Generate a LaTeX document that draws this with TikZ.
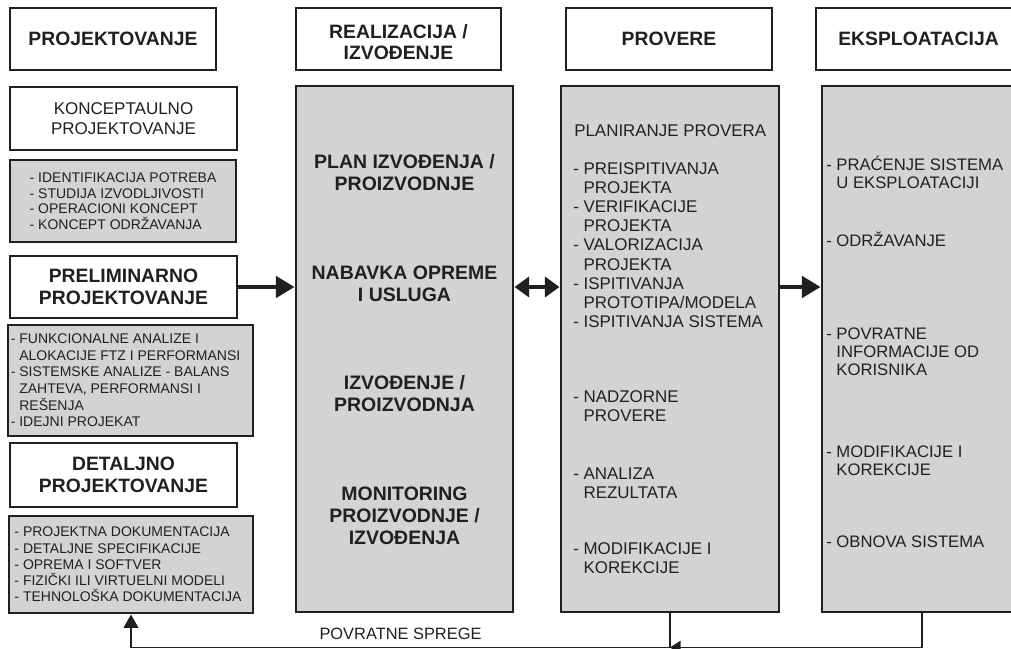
\documentclass[tikz,border=0pt]{standalone}
\usepackage{fontspec}
\setmainfont{Liberation Sans}
\usepackage{tikz}
\usetikzlibrary{arrows.meta,fit}
\definecolor{ink}{HTML}{231F20}
\definecolor{panel}{HTML}{D1D3D4}
% hanging indent for the continued list lines
\newcommand\ind{\hphantom{-\ }}

\begin{document}
\begin{tikzpicture}[x=0.75pt,y=-0.75pt,
  every node/.style={text=ink},
  bordered/.style={draw=ink, line width=2.2pt, inner sep=0pt},
  whitebox/.style={bordered, fill=white},
  panelbox/.style={bordered, fill=panel},
  heading/.style={align=center, inner sep=0pt, font=\bfseries\fontsize{14.5}{16}\selectfont},
  phase/.style={align=center, inner sep=0pt, font=\bfseries\fontsize{14.5}{17}\selectfont},
  info/.style={align=left, inner sep=0pt, font=\fontsize{10.5}{12.2}\selectfont},
  big/.style={align=center, inner sep=0pt, font=\bfseries\fontsize{14.6}{16.5}\selectfont},
  txt/.style={anchor=west, align=left, inner sep=0pt, font=\fontsize{12.7}{14.4}\selectfont},
  txtb/.style={txt, font=\fontsize{12.5}{13.5}\selectfont},
  flow/.style={draw=ink, line width=3pt, -{Triangle[length=14pt,width=16pt]}},
  twoway/.style={draw=ink, line width=3pt, {Triangle[length=11pt,width=15pt]}-{Triangle[length=11pt,width=15pt]}},
  fb/.style={draw=ink, line width=1.1pt},
]
\useasboundingbox (0,0) rectangle (1011,649);

% column headers
\node[whitebox, fit={(10,8) (216,70)}] (hproj) {};
\node[whitebox, fit={(296,8) (501,70)}] (hreal) {};
\node[whitebox, fit={(566,8) (772,70)}] (hprov) {};
\node[whitebox, fit={(816,8) (1021,70)}] (heks) {};
\node[heading] (hprojt) at (hproj) {PROJEKTOVANJE};
\node[heading] (hrealt) at ([yshift=-2.5pt]hreal.center) {REALIZACIJA /\\IZVOĐENJE};
\node[heading] (hprovt) at (hprov) {PROVERE};
\node[heading] (hekst) at (heks) {EKSPLOATACIJA};

% left column: design phases
\node[whitebox, fit={(10,87) (237,150)}] (konc) {};
\node[phase, font=\fontsize{12.75}{15}\selectfont] (konct) at (konc) {KONCEPTAULNO\\PROJEKTOVANJE};
\node[panelbox, fit={(10,160) (236,242)}] (g1) {};
\node[info, font=\fontsize{10.5}{11.7}\selectfont] (g1t) at (g1)
  {- IDENTIFIKACIJA POTREBA\\- STUDIJA IZVODLJIVOSTI\\- OPERACIONI KONCEPT\\- KONCEPT ODRŽAVANJA};
\node[whitebox, fit={(10,256) (237,318)}] (prelim) {};
\node[phase] (prelimt) at (prelim) {PRELIMINARNO\\PROJEKTOVANJE};
\node[panelbox, fit={(8,325) (253,436)}] (g2) {};
\node[info, anchor=west, font=\fontsize{10.5}{12.5}\selectfont] (g2t) at ([xshift=3pt]g2.west)
  {- FUNKCIONALNE ANALIZE I\\\ind ALOKACIJE FTZ I PERFORMANSI\\- SISTEMSKE ANALIZE - BALANS\\\ind ZAHTEVA, PERFORMANSI I\\\ind REŠENJA\\- IDEJNI PROJEKAT};
\node[whitebox, fit={(10,443) (237,507)}] (detalj) {};
\node[phase] (detaljt) at (detalj) {DETALJNO\\PROJEKTOVANJE};
\node[panelbox, fit={(9,516) (253,613)}] (g3) {};
\node[info, anchor=west] (g3t) at ([xshift=5pt]g3.west)
  {- PROJEKTNA DOKUMENTACIJA\\- DETALJNE SPECIFIKACIJE\\- OPREMA I SOFTVER\\- FIZIČKI ILI VIRTUELNI MODELI\\- TEHNOLOŠKA DOKUMENTACIJA};

% big grey columns
\node[panelbox, fit={(296,86) (513,612)}] (real) {};
\node[panelbox, fit={(561,86) (779,612)}] (prov) {};
\node[panelbox, fit={(822,86) (1022,612)}] (eks) {};

% realizacija
\node[big] (plan) at (404.5,172.5) {PLAN IZVOĐENJA /\\PROIZVODNJE};
\node[big] (nabavka) at (404.5,283.5) {NABAVKA OPREME\\I USLUGA};
\node[big] (izvod) at (404.5,393.5) {IZVOĐENJE /\\PROIZVODNJA};
\node[big] (monit) at (404.5,515.5) {MONITORING\\PROIZVODNJE /\\IZVOĐENJA};

% provere
\node[txt] (plpr) at (574,131) {PLANIRANJE PROVERA};
\node[txt] (ispit) at (573,245)
  {- PREISPITIVANJA\\\ind PROJEKTA\\- VERIFIKACIJE\\\ind PROJEKTA\\- VALORIZACIJA\\\ind PROJEKTA\\- ISPITIVANJA\\\ind PROTOTIPA/MODELA\\- ISPITIVANJA SISTEMA};
\node[txt] (nadz) at (573,406.5) {- NADZORNE\\\ind PROVERE};
\node[txt] (anal) at (573,483.5) {- ANALIZA\\\ind REZULTATA};
\node[txt] (modp) at (573,558.5) {- MODIFIKACIJE I\\\ind KOREKCIJE};

% eksploatacija
\node[txtb] (prac) at (826,172) {- PRAĆENJE SISTEMA\\\ind U EKSPLOATACIJI};
\node[txtb] (odrz) at (826,239) {- ODRŽAVANJE};
\node[txtb] (povr) at (826,352) {- POVRATNE\\\ind INFORMACIJE OD\\\ind KORISNIKA};
\node[txtb] (mode) at (826,461) {- MODIFIKACIJE I\\\ind KOREKCIJE};
\node[txtb] (obn) at (826,542) {- OBNOVA SISTEMA};

% main flow
\draw[flow] (prelim.east) -- (prelim.east -| real.west);
\draw[twoway] (prelim.east -| real.east) -- (prelim.east -| prov.west);
\draw[flow] (prelim.east -| prov.east) -- (prelim.east -| eks.west);

% feedback loops
\draw[fb, -{Triangle[length=10pt,width=11pt]}] (prov.south) -- ++(0,34) coordinate (jn)
  -| node[pos=0.25, above=5pt, inner sep=0pt, font=\fontsize{12.3}{14}\selectfont] (spr) {POVRATNE SPREGE} (g3.south);
\draw[fb, -{Triangle[length=8pt,width=10pt]}] (eks.south) -- (eks.south |- jn) -- (jn);
\end{tikzpicture}
\end{document}
